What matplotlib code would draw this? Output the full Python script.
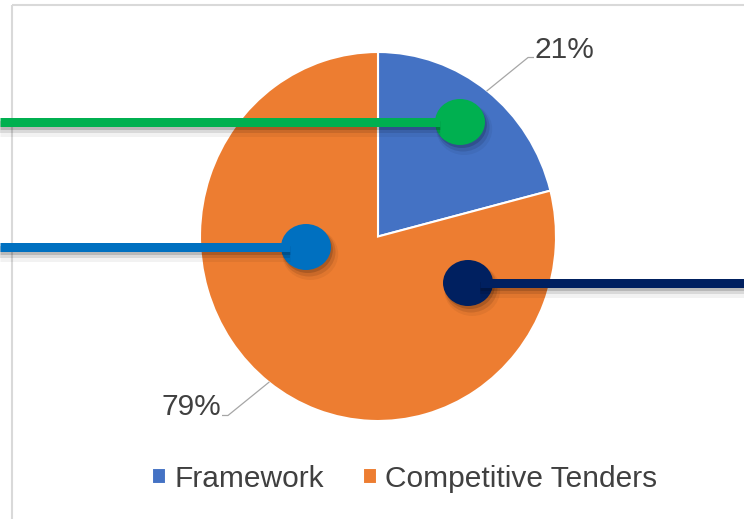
import numpy as np
import matplotlib
matplotlib.use('Agg')
import matplotlib.pyplot as plt
from matplotlib.patches import Ellipse, Rectangle

plt.rcParams['font.family'] = ['Liberation Sans', 'DejaVu Sans']

categories = ['Framework', 'Competitive Tenders']
shares = [21, 79]
colors = ['#4472C4', '#ED7D31']
label_text = ['21%', '79%']

# decorative callout markers drawn over the chart (pixel space)
marker_colors = ['#00B050', '#0070C0', '#002060']
marker_centers = [(460, 122), (306, 247), (468, 283)]
marker_lines = [(0, 440, 121.5), (0, 290, 247), (480, 744, 282.5)]

W, H = 744, 519
fig = plt.figure(figsize=(W / 100, H / 100), dpi=100)
fig.patch.set_facecolor('white')

# pie occupies a slightly tall box -> slightly elliptical pie like the original
px0, px1, py0, py1 = 200, 556, 52, 421
pax = fig.add_axes([px0 / W, 1 - py1 / H, (px1 - px0) / W, (py1 - py0) / H])
wedges, _ = pax.pie(shares, colors=colors, startangle=90, counterclock=False,
                    radius=1, wedgeprops=dict(edgecolor='white', linewidth=1.5))
pax.set_aspect('auto')
pax.set_xlim(-1, 1)
pax.set_ylim(-1, 1)
pax.axis('off')

# data labels with leader lines
for w, txt in zip(wedges, label_text):
    mid = np.deg2rad((w.theta1 + w.theta2) / 2)
    ex, ey = np.cos(mid), np.sin(mid)
    s = 1 if ex > 0 else -1
    elx, ely = ex + s * 0.23, ey + s * 0.18
    hx = elx + s * 0.03
    pax.plot([ex, elx, hx], [ey, ely, ely], color='#a6a6a6', lw=0.9, clip_on=False)
    pax.text(hx + s * 0.005, ely, txt, ha='left' if s > 0 else 'right', va='baseline',
             fontsize=21.5, color='#404040')

leg = pax.legend(wedges, categories, loc='center', bbox_to_anchor=(405 / W, 1 - 479 / H),
                 bbox_transform=fig.transFigure, ncol=2, frameon=False, fontsize=21.5,
                 handlelength=0.45, handleheight=0.45, handletextpad=0.3,
                 columnspacing=1.3, borderpad=0)
for t in leg.get_texts():
    t.set_color('#404040')

# overlay axes in pixel coordinates
ox = fig.add_axes([0, 0, 1, 1])
ox.set_xlim(0, W)
ox.set_ylim(H, 0)
ox.axis('off')
ox.patch.set_visible(False)

ox.add_patch(Rectangle((12, 4.5), W, H, fill=False, edgecolor='#d9d9d9', lw=1.5))

lw = 9 * 72 / 100
for col, (cx, cy), (x0, x1, ly) in zip(marker_colors, marker_centers, marker_lines):
    # soft shadows
    for off, a, grow in [(7, 0.05, 6), (5, 0.1, 3), (3, 0.15, 0)]:
        ox.plot([x0, x1], [ly + off, ly + off], color='black', alpha=a, lw=lw + grow * 0.72,
                solid_capstyle='butt')
        ox.add_patch(Ellipse((cx + off * 0.6, cy + off), 50 + grow, 46 + grow,
                             facecolor='black', alpha=a, edgecolor='none'))
    ox.plot([x0, x1], [ly, ly], color=col, lw=lw, solid_capstyle='butt')
    ox.add_patch(Ellipse((cx, cy), 50, 46, facecolor=col, edgecolor='none'))

fig.savefig('out.png', dpi=100)
